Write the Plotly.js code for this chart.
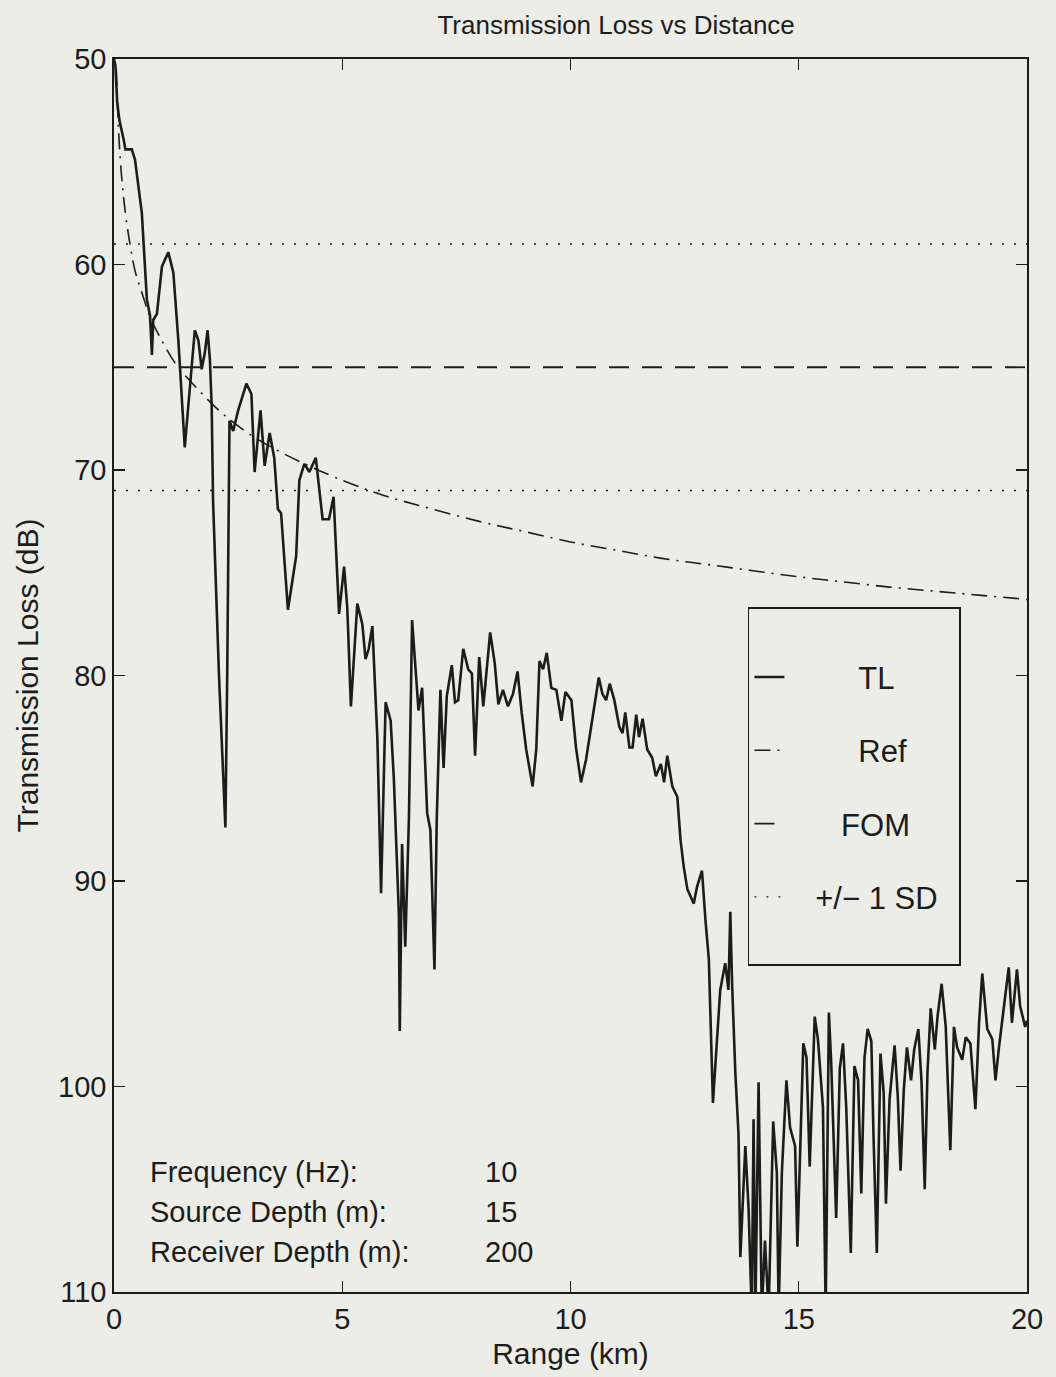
<!DOCTYPE html>
<html>
<head>
<meta charset="utf-8">
<script src="https://cdn.plot.ly/plotly-3.0.1.min.js"></script>
<style>
  html, body { margin: 0; padding: 0; background: #ecede6; }
  #chart { width: 1056px; height: 1377px; }
</style>
</head>
<body>
<div id="chart"></div>
<script>
// ---- Data ----
const tlRange = [
  0.00, 0.03, 0.07, 0.12, 0.21, 0.25, 0.39, 0.46, 0.61, 0.72, 0.79, 0.83, 0.86, 0.94,
  1.05, 1.19, 1.30, 1.41, 1.55, 1.66, 1.77, 1.85, 1.92, 1.99, 2.05, 2.10, 2.14, 2.17,
  2.30, 2.44, 2.48, 2.53, 2.61, 2.72, 2.90, 3.01, 3.08, 3.21, 3.30, 3.41, 3.51, 3.59,
  3.66, 3.81, 3.99, 4.06, 4.17, 4.28, 4.42, 4.57, 4.71, 4.81, 4.93, 5.04, 5.11, 5.19,
  5.33, 5.44, 5.51, 5.58, 5.66, 5.77, 5.85, 5.95, 6.06, 6.13, 6.24, 6.26, 6.31, 6.38,
  6.42, 6.46, 6.53, 6.67, 6.75, 6.86, 6.93, 7.02, 7.07, 7.15, 7.22, 7.29, 7.40, 7.47,
  7.54, 7.65, 7.76, 7.84, 7.91, 8.00, 8.09, 8.24, 8.34, 8.42, 8.52, 8.63, 8.74, 8.84,
  8.93, 9.03, 9.17, 9.25, 9.32, 9.40, 9.48, 9.58, 9.69, 9.80, 9.89, 10.02, 10.12, 10.23,
  10.34, 10.49, 10.62, 10.70, 10.78, 10.86, 10.96, 11.07, 11.14, 11.20, 11.29, 11.36,
  11.44, 11.50, 11.58, 11.68, 11.79, 11.87, 11.98, 12.05, 12.12, 12.23, 12.34, 12.41,
  12.48, 12.56, 12.70, 12.77, 12.88, 12.96, 13.03, 13.12, 13.17, 13.28, 13.39, 13.46,
  13.50, 13.54, 13.61, 13.68, 13.72, 13.83, 13.90, 13.97, 14.01, 14.05, 14.12, 14.19,
  14.26, 14.34, 14.44, 14.52, 14.56, 14.63, 14.73, 14.81, 14.92, 14.97, 15.10, 15.17,
  15.24, 15.35, 15.42, 15.53, 15.59, 15.66, 15.71, 15.82, 15.90, 15.97, 16.04, 16.14,
  16.22, 16.30, 16.37, 16.44, 16.51, 16.59, 16.64, 16.71, 16.79, 16.86, 16.91, 16.99,
  17.10, 17.17, 17.23, 17.30, 17.37, 17.46, 17.53, 17.62, 17.69, 17.76, 17.82, 17.89,
  17.98, 18.04, 18.13, 18.22, 18.32, 18.40, 18.47, 18.58, 18.66, 18.76, 18.87, 18.95,
  19.02, 19.13, 19.24, 19.31, 19.38, 19.49, 19.60, 19.67, 19.78, 19.85, 19.96, 20.00
];
const tlLoss = [
  50.0, 50.3, 52.1, 53.0, 53.9, 54.4, 54.4, 54.9, 57.5, 61.7, 62.5, 64.4, 62.7, 62.4,
  60.1, 59.4, 60.4, 63.7, 68.9, 66.1, 63.2, 63.7, 65.1, 64.3, 63.2, 64.6, 66.9, 71.5,
  80.0, 87.4, 80.0, 67.6, 68.1, 67.1, 65.8, 66.3, 70.1, 67.1, 69.8, 68.2, 69.4, 71.9,
  72.1, 76.8, 74.2, 70.5, 69.7, 70.1, 69.4, 72.4, 72.4, 71.3, 77.0, 74.7, 76.7, 81.5,
  76.5, 77.5, 79.2, 78.7, 77.6, 83.1, 90.6, 81.3, 82.2, 85.0, 91.6, 97.3, 88.2, 93.2,
  90.0, 87.0, 77.3, 81.7, 80.6, 86.7, 87.5, 94.3, 87.0, 80.7, 84.5, 81.0, 79.5, 81.3,
  81.2, 78.7, 79.7, 79.9, 83.9, 79.1, 81.5, 77.9, 79.4, 81.4, 80.7, 81.5, 80.9, 79.8,
  81.8, 83.6, 85.4, 83.6, 79.3, 79.7, 78.9, 80.6, 80.7, 82.2, 80.8, 81.2, 83.5, 85.2,
  84.1, 82.0, 80.1, 80.9, 81.2, 80.4, 81.2, 82.5, 82.8, 81.8, 83.5, 83.5,
  81.9, 83.0, 82.1, 83.6, 84.0, 84.9, 84.3, 85.2, 83.9, 85.4, 85.9, 88.0,
  89.3, 90.4, 91.1, 90.3, 89.5, 92.0, 93.8, 100.8, 99.0, 95.3, 94.0, 95.3,
  91.5, 95.0, 99.3, 102.3, 108.3, 102.9, 105.9, 111.0, 101.6, 111.0, 99.8, 111.0,
  107.5, 111.0, 101.7, 104.2, 111.0, 104.2, 99.7, 102.0, 102.9, 107.8, 97.9, 98.6,
  103.9, 96.6, 97.7, 101.0, 111.0, 96.4, 98.8, 106.4, 99.1, 97.9, 101.0, 108.1,
  99.0, 99.7, 105.2, 98.6, 97.2, 97.8, 102.6, 108.1, 98.4, 100.3, 105.7, 100.6,
  98.0, 100.5, 104.1, 100.2, 98.1, 99.7, 98.2, 97.2, 99.8, 105.0, 99.3, 96.2,
  98.2, 96.6, 95.0, 97.1, 103.1, 97.1, 98.1, 98.7, 97.6, 97.9, 101.1, 96.9,
  94.5, 97.2, 97.7, 99.7, 98.2, 96.1, 94.2, 96.9, 94.3, 96.1, 97.1, 96.8
];
const refRange = [0.05, 0.10, 0.17, 0.25, 0.35, 0.46, 0.60, 0.80, 1.00, 1.34, 1.85, 2.35,
  3.00, 3.80, 5.00, 6.00, 6.64, 8.00, 9.00, 10.0, 11.0, 12.0, 13.0, 14.0, 15.0, 16.0,
  17.0, 18.0, 19.0, 20.0];
const refLoss = [50.5, 53.5, 55.8, 57.5, 59.0, 60.3, 61.3, 62.6, 63.5, 64.8, 66.1, 67.2,
  68.3, 69.3, 70.5, 71.3, 71.7, 72.5, 73.0, 73.5, 73.9, 74.3, 74.6, 74.9, 75.2, 75.45,
  75.7, 75.9, 76.1, 76.3];
const lineRange = [0, 20];
const fomLevel = [65, 65];
const sdUpper = [59, 59];
const sdLower = [71, 71];
const legendNames = ['TL', 'Ref', 'FOM', '+/\u2212 1 SD'];
const infoLabels = ['Frequency (Hz):', 'Source Depth (m):', 'Receiver Depth (m):'];
const infoValues = ['10', '15', '200'];
const xTicks = [0, 5, 10, 15, 20];
const yTicks = [50, 60, 70, 80, 90, 100, 110];

// ---- Styling ----
const BG = '#ecede6';
const INK = '#1c1c1c';
const FONT = 'Liberation Sans, Arial, Helvetica, sans-serif';
const nb = n => '\u00A0'.repeat(n);

const traces = [
  { x: tlRange, y: tlLoss, mode: 'lines', name: nb(8) + legendNames[0],
    legendgroup: 'a', line: { color: INK, width: 2.6 } },
  { x: refRange, y: refLoss, mode: 'lines', name: nb(8) + legendNames[1],
    legendgroup: 'b', line: { color: INK, width: 1.6, dash: '16px,7px,2px,7px', shape: 'spline' } },
  { x: lineRange, y: fomLevel, mode: 'lines', name: nb(6) + legendNames[2],
    legendgroup: 'c', line: { color: INK, width: 1.8, dash: '20px,13px' } },
  { x: lineRange, y: sdUpper, mode: 'lines', name: nb(3) + legendNames[3] + '<br>' + nb(19),
    legendgroup: 'd', line: { color: INK, width: 1.4, dash: '2px,10px' } },
  { x: lineRange, y: sdLower, mode: 'lines', name: legendNames[3], showlegend: false,
    legendgroup: 'd', line: { color: INK, width: 1.4, dash: '2px,10px' } }
];

const annotations = [];
infoLabels.forEach((t, i) => {
  annotations.push({ text: t, xref: 'paper', yref: 'paper', x: 0.037, y: 0.0973 - i * 0.0324,
    xanchor: 'left', yanchor: 'middle', showarrow: false, font: { size: 29, color: INK, family: FONT } });
  annotations.push({ text: infoValues[i], xref: 'paper', yref: 'paper', x: 0.404, y: 0.0973 - i * 0.0324,
    xanchor: 'left', yanchor: 'middle', showarrow: false, font: { size: 29, color: INK, family: FONT } });
});

const layout = {
  width: 1056, height: 1377,
  paper_bgcolor: BG, plot_bgcolor: BG,
  margin: { l: 114, r: 29, t: 59, b: 85 },
  font: { family: FONT, color: INK, size: 29 },
  title: { text: 'Transmission Loss vs Distance', font: { size: 26, family: FONT, color: INK },
    x: 0.55, xref: 'paper', xanchor: 'center', y: 1 - 25 / 1377, yref: 'container', yanchor: 'middle' },
  xaxis: {
    range: [0, 20], tickvals: xTicks, ticks: 'inside', ticklen: 11, tickwidth: 1.3, tickcolor: INK,
    showline: true, linecolor: INK, linewidth: 1.8, mirror: 'ticks', showgrid: false, zeroline: false,
    tickfont: { size: 29 },
    title: { text: 'Range (km)', font: { size: 30 }, standoff: 9 }
  },
  yaxis: {
    range: [110, 50], tickvals: yTicks, ticks: 'inside', ticklen: 11, tickwidth: 1.3, tickcolor: INK,
    showline: true, linecolor: INK, linewidth: 1.8, mirror: 'ticks', showgrid: false, zeroline: false,
    tickfont: { size: 29 },
    title: { text: 'Transmission Loss (dB)', font: { size: 30 }, standoff: 10 }
  },
  legend: {
    x: 0.694, y: 0.5556, xanchor: 'left', yanchor: 'top', valign: 'top',
    bgcolor: BG, bordercolor: INK, borderwidth: 1.8,
    font: { size: 31, family: FONT, color: INK },
    tracegroupgap: 30,
    title: { text: '\u00A0', font: { size: 32 } }
  },
  annotations: annotations,
  showlegend: true
};

Plotly.newPlot('chart', traces, layout, { staticPlot: true, displayModeBar: false });
</script>
</body>
</html>
